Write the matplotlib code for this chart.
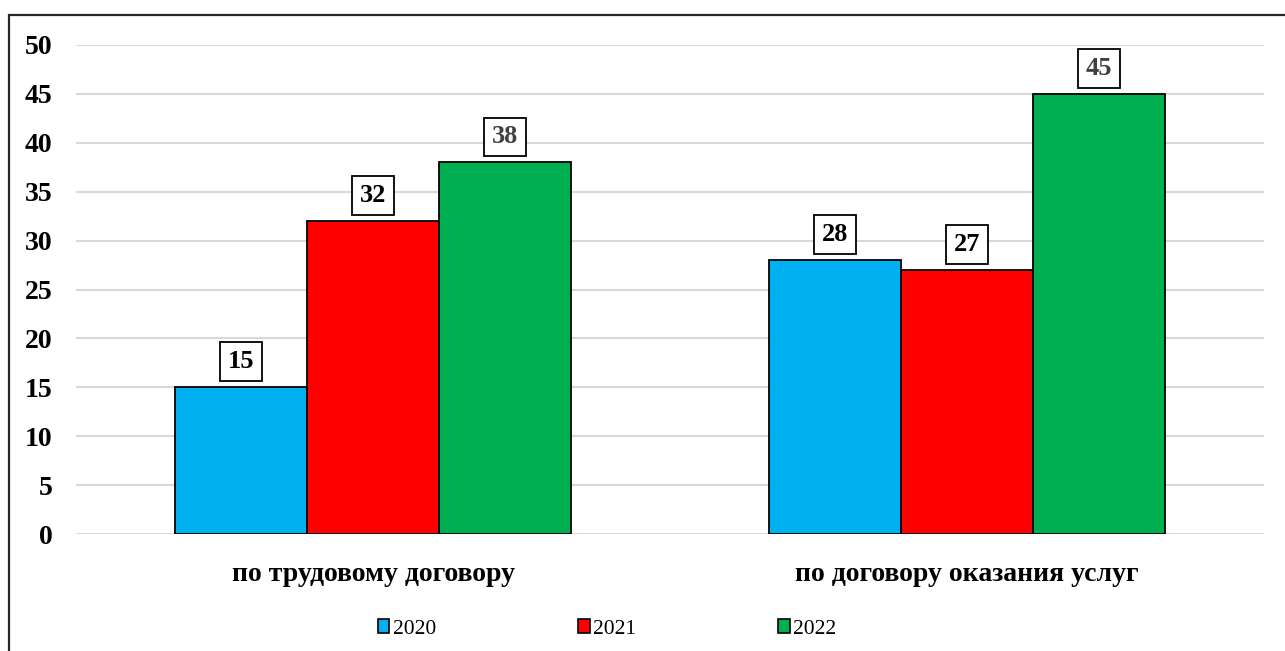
import matplotlib
matplotlib.use("Agg")
import matplotlib.pyplot as plt
from matplotlib.patches import Rectangle, Patch
import numpy as np

categories = ["по трудовому договору", "по договору оказания услуг"]
years = ["2020", "2021", "2022"]
values_2020 = [15, 28]
values_2021 = [32, 27]
values_2022 = [38, 45]
series = [values_2020, values_2021, values_2022]
colors = ["#00B0F0", "#FF0000", "#00B050"]
label_colors = ["black", "black", "#404040"]
yticks = [0, 5, 10, 15, 20, 25, 30, 35, 40, 45, 50]

W, H = 1285, 651
fig = plt.figure(figsize=(W / 100, H / 100), dpi=100)
fig.patch.set_facecolor("white")

# outer chart frame (extends beyond right/bottom edge)
frame = Rectangle((9 / W, -0.1), 1.2, (651 - 15) / H + 0.1, transform=fig.transFigure,
                  fill=False, edgecolor="#262626", linewidth=1.6, clip_on=False)
fig.add_artist(frame)

ax_left, ax_right = 76 / W, 1264 / W
ax_bottom, ax_top = (H - 534) / H, (H - 45) / H
ax = fig.add_axes([ax_left, ax_bottom, ax_right - ax_left, ax_top - ax_bottom])

serif = "Liberation Serif"
x = np.arange(len(categories))
bw = 132 / 594
for i, (vals, c) in enumerate(zip(series, colors)):
    pos = x + (i - 1) * bw
    ax.bar(pos, vals, width=bw, color=c, edgecolor="black", linewidth=1.3,
           label=years[i], zorder=3)
    for p, v in zip(pos, vals):
        ax.annotate(str(v), (p, v), xytext=(0, 10), textcoords="offset points",
                    ha="center", va="bottom", fontsize=19, fontweight="bold",
                    family=serif, color=label_colors[i], zorder=5,
                    bbox=dict(boxstyle="square,pad=0.3", facecolor="white",
                              edgecolor="black", linewidth=1.3))

ax.set_xlim(-0.5, 1.5)
ax.set_ylim(0, 50)
ax.set_yticks(yticks)
ax.set_yticklabels([str(t) for t in yticks], fontsize=20, fontweight="bold", family=serif)
ax.set_xticks(x)
ax.set_xticklabels(categories, fontsize=20, fontweight="bold", family=serif)
ax.tick_params(axis="both", length=0)
ax.tick_params(axis="y", pad=17)
ax.tick_params(axis="x", pad=20)
ax.grid(axis="y", color="#D9D9D9", linewidth=1.5, zorder=0)
ax.set_axisbelow(True)
for s in ax.spines.values():
    s.set_visible(False)
ax.set_facecolor("none")

handles = [Patch(facecolor=c, edgecolor="black", linewidth=1.2) for c in colors]
fig.legend(handles, years, loc="center", bbox_to_anchor=(607 / W, (H - 629) / H),
           ncol=3, frameon=False, prop={"family": serif, "size": 15.5},
           handlelength=0.55, handleheight=0.65, handletextpad=0.15, columnspacing=6.6)

fig.savefig("out.png", dpi=100)
